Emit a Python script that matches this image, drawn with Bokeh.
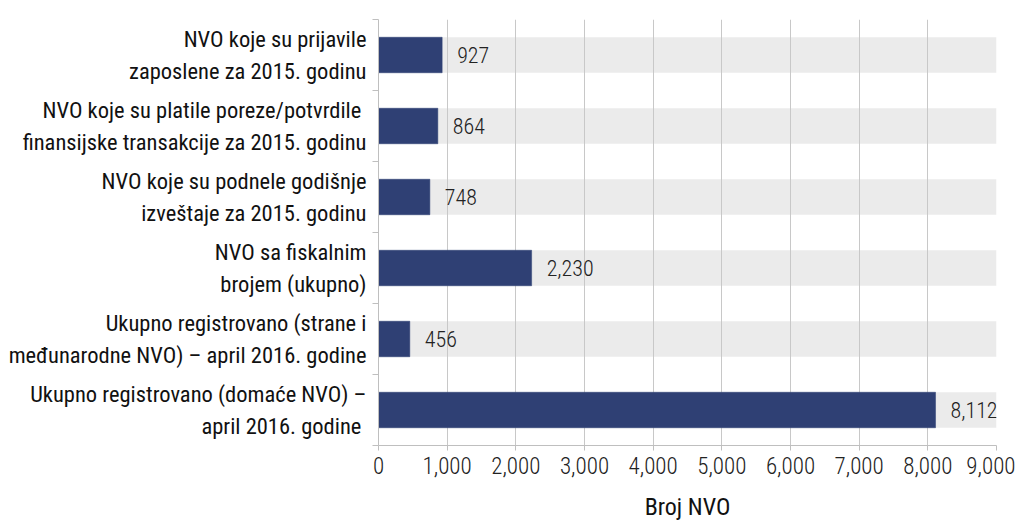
from bokeh.plotting import figure
from bokeh.models import FixedTicker, ColumnDataSource, NumeralTickFormatter, Range1d, LabelSet
from bokeh.core.properties import value
from bokeh.embed import file_html
from bokeh.resources import INLINE

categories = [
    "NVO koje su prijavile\nzaposlene za 2015. godinu",
    "NVO koje su platile poreze/potvrdile \nfinansijske transakcije za 2015. godinu",
    "NVO koje su podnele godišnje\nizveštaje za 2015. godinu",
    "NVO sa fiskalnim\nbrojem (ukupno)",
    "Ukupno registrovano (strane i\nmeđunarodne NVO) – april 2016. godine",
    "Ukupno registrovano (domaće NVO) –\napril 2016. godine ",
]
values = [927, 864, 748, 2230, 456, 8112]
x_max = 9000
x_ticks = [0, 1000, 2000, 3000, 4000, 5000, 6000, 7000, 8000, 9000]

FONT = "Roboto Condensed, Liberation Sans Narrow, Roboto"
FONT_LIGHT = "Roboto Condensed Light, Roboto Condensed, Liberation Sans Narrow, Roboto"
n = len(categories)
ys = [n - i - 0.5 for i in range(n)]
src = ColumnDataSource(dict(
    y=ys, v=values, full=[x_max] * n,
    lbl=[f"{v:,}" for v in values],
))

p = figure(width=1015, height=525, output_backend="svg", toolbar_location=None,
           x_range=Range1d(0, x_max), y_range=Range1d(0, n),
           min_border_left=378, min_border_right=19, min_border_top=19,
           min_border_bottom=80)
p.outline_line_color = None

bg = p.hbar(y="y", left=0, right="full", height=0.5, source=src,
            fill_color="#ebebeb", line_color=None)
bg.level = "image"
p.hbar(y="y", left=0, right="v", height=0.5, source=src,
       fill_color="#2f4074", line_color="#2f4074", line_width=0.5)
labels = LabelSet(x="v", y="y", text="lbl", source=src, x_offset=15,
                  text_align="left", text_baseline="middle",
                  text_font_size="22px", text_color="#222222",
                  text_font=value(FONT_LIGHT))
p.add_layout(labels)

# x axis
p.xaxis.ticker = FixedTicker(ticks=x_ticks)
p.xaxis.formatter = NumeralTickFormatter(format="0,0")
p.xaxis.axis_label = "Broj NVO"
p.xaxis.axis_label_text_font = FONT
p.xaxis.axis_label_text_font_style = "normal"
p.xaxis.axis_label_text_font_size = "24px"
p.xaxis.axis_label_text_color = "#111111"
p.xaxis.axis_label_standoff = 16
p.xaxis.major_label_text_font = FONT_LIGHT
p.xaxis.major_label_text_font_size = "23px"
p.xaxis.major_label_text_color = "#222222"
p.xaxis.major_label_standoff = 6
p.xaxis.axis_line_color = "#bfbfbf"
p.xaxis.major_tick_line_color = "#bfbfbf"
p.xaxis.major_tick_out = 5
p.xaxis.major_tick_in = 0
p.xaxis.minor_tick_line_color = None

# y axis
p.yaxis.ticker = FixedTicker(ticks=ys, minor_ticks=list(range(n + 1)))
p.yaxis.major_label_overrides = {y: c for y, c in zip(ys, categories)}
p.yaxis.major_label_text_font = FONT
p.yaxis.major_label_text_font_size = "22.5px"
p.yaxis.major_label_text_line_height = 1.22
p.yaxis.major_label_text_color = "#111111"
p.yaxis.major_label_text_align = "right"
p.yaxis.major_label_standoff = 6
p.yaxis.major_tick_out = 0
p.yaxis.major_tick_in = 0
p.yaxis.minor_tick_out = 6
p.yaxis.minor_tick_in = 0
p.yaxis.minor_tick_line_color = "#bfbfbf"
p.yaxis.axis_line_color = "#bfbfbf"

p.xgrid.ticker = FixedTicker(ticks=x_ticks)
p.xgrid.grid_line_color = "#c8c8c8"
p.ygrid.grid_line_color = None

open("out.html", "w").write(file_html(p, INLINE))
